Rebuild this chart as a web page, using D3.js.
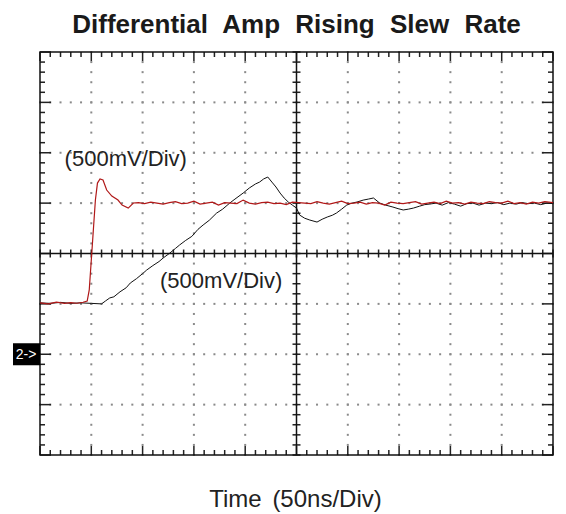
<!DOCTYPE html>
<html>
<head>
<meta charset="utf-8">
<script src="https://cdn.jsdelivr.net/npm/d3@7/dist/d3.min.js"></script>
<style>
body{margin:0;background:#fff;}
text{font-family:"Liberation Sans",Arial,sans-serif;}
</style>
</head>
<body>
<div id="wrapper"></div>
<script>
// Screen readings: time in ns, volts in mV (500mV/div, 50ns/div)
const timeDomain = [0, 500];
const voltDomain = [-2000, 2000];
const divTime = 50, divVolt = 500, minorTime = 10, minorVolt = 100;

const redTrace = [
  [0,-490],[8,-500],[16,-482],[24,-495],[30,-488],[36,-494],[42,-484],[46,-472],[48,-362],[50,-65],
  [52,233],[54,531],[56,699],[58.5,739],[61.4,729],[65,630],[70,570],[76,531],[80,481],[86,451],
  [91,501],[96,505],[102,495],[108,510],[114,500],[120,490],[126,505],[132,515],[138,495],[144,500],
  [150,520],[156,490],[162,500],[168,510],[174,480],[180,505],[186,500],[192,495],[198,530],[204,500],
  [210,490],[216,505],[222,510],[228,495],[234,500],[240,485],[246,510],[252,505],[258,500],[264,495],
  [270,515],[276,500],[282,490],[288,505],[294,520],[300,495],[306,500],[312,510],[318,490],[324,505],
  [330,500],[336,480],[342,510],[348,500],[354,495],[360,505],[366,515],[372,490],[378,500],[384,510],
  [390,495],[396,520],[402,500],[408,505],[414,490],[420,510],[426,500],[432,495],[438,515],[444,505],
  [450,500],[456,520],[462,495],[468,505],[474,490],[480,510],[486,500],[492,515],[500,505]
];

const blackTrace = [
  [0,-490],[10,-495],[20,-485],[30,-495],[40,-490],[50,-495],[60,-500],[64,-470],[68,-441],[72,-430],
  [78,-380],[84,-340],[88,-293],[94,-250],[100,-200],[104,-164],[110,-120],[116,-80],[120,-45],[126,0],
  [132,50],[136,84],[142,130],[148,170],[154,240],[159,283],[165,330],[172,400],[178,440],[185,501],
  [190,540],[198,600],[204,650],[210,690],[214,709],[218,740],[222,759],[226,709],[230,660],[234,600],
  [238,550],[242,511],[246,480],[250,451],[253,382],[258,350],[263,332],[270,312],[275,340],[280,362],
  [285,380],[289,402],[294,440],[299,481],[304,500],[309,511],[315,530],[320,540],[325,551],[331,501],
  [337,480],[344,461],[349,445],[354,432],[359,440],[364,451],[370,470],[375,485],[380,491],[386,500],
  [392,480],[398,505],[404,490],[410,470],[416,495],[422,500],[428,480],[434,500],[440,495],[446,505],
  [452,485],[458,500],[464,490],[470,505],[476,495],[482,500],[488,485],[494,500],[500,495]
];

const titleText = "Differential Amp Rising Slew Rate";
const xLabel = "Time (50ns/Div)";
const chLabel = "(500mV/Div)";
const chLabelPos = [[24,868],[117,-342]]; // ns, mV of label start
const markerText = "2->";
const markerVolt = -1000;

const dimension = {width:566, height:514, margin:{top:52, bottom:59, left:40, right:13}};
dimension.boundedWidth = dimension.width - dimension.margin.left - dimension.margin.right;
dimension.boundedHeight = dimension.height - dimension.margin.top - dimension.margin.bottom;

const xScale = d3.scaleLinear().domain(timeDomain).range([0, dimension.boundedWidth]);
const yScale = d3.scaleLinear().domain(voltDomain).range([dimension.boundedHeight, 0]);

const wrapper = d3.select("#wrapper").append("svg")
  .attr("width", dimension.width).attr("height", dimension.height);
const bounded = wrapper.append("g")
  .attr("transform", `translate(${dimension.margin.left},${dimension.margin.top})`);

const majorT = d3.range(timeDomain[0], timeDomain[1] + 1, divTime);
const majorV = d3.range(voltDomain[0], voltDomain[1] + 1, divVolt);
const minorT = d3.range(timeDomain[0], timeDomain[1] + 1, minorTime);
const minorV = d3.range(voltDomain[0], voltDomain[1] + 1, minorVolt);

// dotted grid
const grid = bounded.append("g").attr("fill", "#8a8a8a");
majorV.slice(1, -1).filter(v => v !== 0).forEach(v => {
  grid.selectAll(null).data(minorT).enter().append("rect")
    .attr("x", d => xScale(d) - 1).attr("y", yScale(v) - 1).attr("width", 2).attr("height", 2);
});
majorT.slice(1, -1).filter(t => t !== 250).forEach(t => {
  grid.selectAll(null).data(minorV).enter().append("rect")
    .attr("x", xScale(t) - 1).attr("y", d => yScale(d) - 1).attr("width", 2).attr("height", 2);
});

// ticks
const ticks = bounded.append("g").attr("stroke", "#222").attr("stroke-width", 1.5);
const isMajorT = t => t % divTime === 0;
const isMajorV = v => v % divVolt === 0;
const W = dimension.boundedWidth, H = dimension.boundedHeight;
minorT.forEach(t => {
  const len = isMajorT(t) ? 9 : 5;
  ticks.append("line").attr("x1", xScale(t)).attr("x2", xScale(t)).attr("y1", 0).attr("y2", len);
  ticks.append("line").attr("x1", xScale(t)).attr("x2", xScale(t)).attr("y1", H).attr("y2", H - len);
  ticks.append("line").attr("x1", xScale(t)).attr("x2", xScale(t))
    .attr("y1", yScale(0) - 4).attr("y2", yScale(0) + 4);
});
minorV.forEach(v => {
  const len = isMajorV(v) ? 11 : 5;
  ticks.append("line").attr("y1", yScale(v)).attr("y2", yScale(v)).attr("x1", 0).attr("x2", len);
  ticks.append("line").attr("y1", yScale(v)).attr("y2", yScale(v)).attr("x1", W).attr("x2", W - len);
  ticks.append("line").attr("y1", yScale(v)).attr("y2", yScale(v))
    .attr("x1", xScale(250) - 4).attr("x2", xScale(250) + 4);
});

// center axes and frame
bounded.append("line").attr("x1", 0).attr("x2", W).attr("y1", yScale(0)).attr("y2", yScale(0))
  .attr("stroke", "#111").attr("stroke-width", 1.5);
bounded.append("line").attr("x1", xScale(250)).attr("x2", xScale(250)).attr("y1", 0).attr("y2", H)
  .attr("stroke", "#111").attr("stroke-width", 1.5);
bounded.append("rect").attr("width", W).attr("height", H)
  .attr("fill", "none").attr("stroke", "#111").attr("stroke-width", 1.5);

// traces
const lineGen = d3.line().x(d => xScale(d[0])).y(d => yScale(d[1]));
bounded.append("path").datum(blackTrace).attr("d", lineGen)
  .attr("fill", "none").attr("stroke", "#111").attr("stroke-width", 1);
bounded.append("path").datum(redTrace).attr("d", lineGen)
  .attr("fill", "none").attr("stroke", "#b01818").attr("stroke-width", 1.2);

// channel labels
bounded.selectAll(".ch").data(chLabelPos).enter().append("text")
  .attr("x", d => xScale(d[0])).attr("y", d => yScale(d[1]))
  .attr("font-size", "22px").attr("fill", "#222").text(chLabel);

// channel marker
const marker = wrapper.append("g")
  .attr("transform", `translate(${dimension.margin.left},${dimension.margin.top + yScale(markerVolt)})`);
marker.append("rect").attr("x", -27).attr("y", -11).attr("width", 27).attr("height", 22).attr("fill", "#000");
marker.append("text").attr("x", -14).attr("y", 5).attr("text-anchor", "middle")
  .attr("font-size", "14px").attr("fill", "#fff").text(markerText);

// title and axis label
wrapper.append("text").attr("x", dimension.margin.left + W / 2).attr("y", 33)
  .attr("text-anchor", "middle").attr("font-size", "26px").attr("font-weight", "bold")
  .attr("word-spacing", "8px").attr("fill", "#1a1a1a").text(titleText);
wrapper.append("text").attr("x", dimension.margin.left + W / 2 - 1).attr("y", 507)
  .attr("text-anchor", "middle").attr("font-size", "24px").attr("word-spacing", "4px")
  .attr("fill", "#222").text(xLabel);
</script>
</body>
</html>
